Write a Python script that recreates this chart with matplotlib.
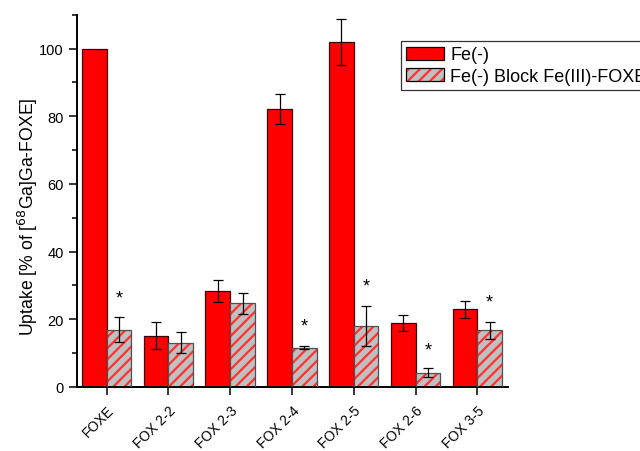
import matplotlib
matplotlib.use("Agg")
import matplotlib.pyplot as plt
import numpy as np
from matplotlib.patches import Patch
from matplotlib.legend_handler import HandlerTuple
from matplotlib.ticker import MultipleLocator

plt.rcParams['font.family'] = ['Liberation Sans', 'DejaVu Sans']
plt.rcParams['hatch.linewidth'] = 1.6

categories = ["FOXE", "FOX 2-2", "FOX 2-3", "FOX 2-4", "FOX 2-5", "FOX 2-6", "FOX 3-5"]
fe_vals = [100.0, 15.2, 28.4, 82.2, 102.0, 18.9, 23.0]
fe_err = [0.0, 4.0, 3.2, 4.4, 6.8, 2.4, 2.5]
block_vals = [16.9, 13.1, 24.7, 11.6, 18.0, 4.2, 16.7]
block_err = [3.7, 3.1, 3.0, 0.5, 6.0, 1.3, 2.4]
star_idx = [0, 3, 4, 5, 6]
star_y = [26.4, 18.1, 30.0, 11.0, 25.0]
series_labels = ["Fe(-)", "Fe(-) Block Fe(III)-FOXE"]

fig = plt.figure(figsize=(6.4, 4.52), dpi=100)
ax = fig.add_axes([0.1203, 0.1416, 0.6737, 0.8234])

x = np.arange(len(categories))
w = 0.4
ax.bar(x - w/2, fe_vals, w, color='#ff0000', edgecolor='#3a0000', linewidth=0.9, zorder=2)
fe_x = np.array([xi - w/2 for xi, e in zip(x, fe_err) if e > 0])
fe_v = np.array([v for v, e in zip(fe_vals, fe_err) if e > 0])
fe_e = np.array([e for e in fe_err if e > 0])
ax.errorbar(fe_x, fe_v, yerr=fe_e, fmt='none', ecolor='black', elinewidth=0.9,
            capsize=3.5, capthick=0.9, zorder=4)
# hatched bars: gray fill with red hatch, then gray outline
ax.bar(x + w/2, block_vals, w, color='#c0c0c0', edgecolor='#ff3030', linewidth=0, hatch='///', zorder=2)
ax.bar(x + w/2, block_vals, w, fill=False, edgecolor='#505050', linewidth=0.9, zorder=3)
ax.errorbar(x + w/2, block_vals, yerr=block_err, fmt='none', ecolor='black', elinewidth=0.9,
            capsize=3.5, capthick=0.9, zorder=4)

for i, yv in zip(star_idx, star_y):
    ax.text(x[i] + w/2, yv, "*", ha='center', va='center', fontsize=13, zorder=5)

ax.set_xlim(-0.48, 6.5)
ax.set_ylim(0, 110)
ax.set_xticks(x)
ax.set_xticklabels(categories, rotation=45, ha='right', rotation_mode='anchor', fontsize=10)
ax.yaxis.set_major_locator(MultipleLocator(20))
ax.yaxis.set_minor_locator(MultipleLocator(10))
ax.tick_params(axis='y', which='major', length=6, width=1.1, labelsize=10.5)
ax.tick_params(axis='y', which='minor', length=3.5, width=1.1)
ax.tick_params(axis='x', which='major', length=5.5, width=1.1, pad=6)
for s in ['top', 'right']:
    ax.spines[s].set_visible(False)
for s in ['left', 'bottom']:
    ax.spines[s].set_linewidth(1.4)
ax.set_ylabel("Uptake [% of [$^{68}$Ga]Ga-FOXE]", fontsize=12.7)
ax.yaxis.set_label_coords(-0.085, 0.46)

h1 = Patch(facecolor='#ff0000', edgecolor='black', linewidth=0.9)
h2a = Patch(facecolor='#c0c0c0', edgecolor='#ff3030', hatch='///', linewidth=0)
h2b = Patch(fill=False, edgecolor='black', linewidth=0.9)
leg = fig.legend([h1, (h2a, h2b)], series_labels, loc='upper left', bbox_to_anchor=(0.626, 0.907),
                 bbox_transform=fig.transFigure, fontsize=13, frameon=True, fancybox=False,
                 edgecolor='black', handlelength=2.1, handleheight=0.75, borderpad=0.3,
                 labelspacing=0.25, handletextpad=0.35, borderaxespad=0,
                 handler_map={tuple: HandlerTuple(ndivide=1, pad=0)})
leg.get_frame().set_linewidth(0.9)

fig.savefig("out.png", dpi=100)
